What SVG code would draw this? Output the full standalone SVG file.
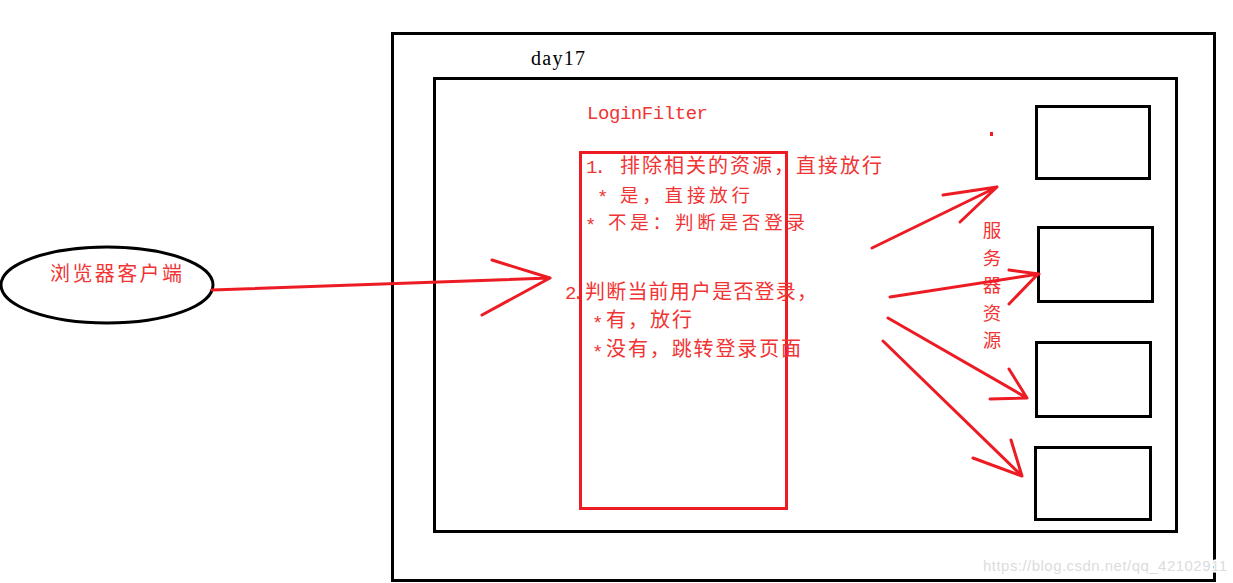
<svg xmlns="http://www.w3.org/2000/svg" width="1233" height="583" viewBox="0 0 1233 583">
<style>
.blk{fill:none;stroke:#000;stroke-width:3}
.red{fill:none;stroke:#ed1c24;stroke-width:3;stroke-linecap:round}
.rbox{fill:none;stroke:#ed1c24;stroke-width:3}
.cn{font-family:"Noto Sans CJK SC","Noto Sans",sans-serif;font-size:20px;fill:#f03434}
.sm{font-size:18.5px}
.mono{font-family:"Liberation Mono",monospace;fill:#f03434;font-size:19px}
.wm{font-family:"Liberation Sans",Arial,sans-serif;font-size:15px;fill:#dcdcdc;stroke:#fff;stroke-width:3;paint-order:stroke}
</style>
<rect width="1233" height="583" fill="#fff"/>
<g id="day17">
<rect class="blk" x="392.5" y="33.5" width="822" height="547"/>
<text x="531" y="65" font-family="Liberation Serif,serif" font-size="20" fill="#000" textLength="54">day17</text>
</g>
<g id="inner">
<rect class="blk" x="434.5" y="78.5" width="742" height="453"/>
</g>
<g id="browser">
<ellipse cx="107" cy="285" rx="106" ry="38" fill="#fff" stroke="#000" stroke-width="3"/>
<text class="cn" x="50" y="281" textLength="132">浏览器客户端</text>
</g>
<g id="loginfilter">
<text class="mono" x="587" y="119" font-size="18" textLength="121">LoginFilter</text>
<rect class="rbox" x="580.5" y="152.5" width="206" height="356"/>
<text class="mono" x="586" y="173" textLength="20">1.</text>
<text class="cn" x="620" y="173" textLength="262">排除相关的资源，直接放行</text>
<text class="mono" x="597" y="203" font-size="21">*</text>
<text class="cn sm" x="620" y="202" textLength="130">是，直接放行</text>
<text class="mono" x="585" y="231" font-size="21">*</text>
<text class="cn sm" x="608" y="229" textLength="197">不是：判断是否登录</text>
<text class="mono" x="565" y="299" textLength="19">2.</text>
<text class="cn" x="585" y="299" textLength="232">判断当前用户是否登录，</text>
<text class="mono" x="592" y="329" font-size="21">*</text>
<text class="cn" x="606" y="327" textLength="86">有，放行</text>
<text class="mono" x="592" y="358" font-size="21">*</text>
<text class="cn" x="606" y="356" textLength="195">没有，跳转登录页面</text>
</g>
<g id="res1"><rect class="blk" x="1036.5" y="106.5" width="113" height="72"/></g>
<g id="res2"><rect class="blk" x="1038.5" y="227.5" width="114" height="74"/></g>
<g id="res3"><rect class="blk" x="1036.5" y="342.5" width="114" height="74"/></g>
<g id="res4"><rect class="blk" x="1035.5" y="447.5" width="115" height="72"/></g>
<g id="label-server">
<text class="cn sm" x="992" y="237" text-anchor="middle">服</text>
<text class="cn sm" x="992" y="265" text-anchor="middle">务</text>
<text class="cn sm" x="992" y="292" text-anchor="middle">器</text>
<text class="cn sm" x="992" y="320" text-anchor="middle">资</text>
<text class="cn sm" x="992" y="347" text-anchor="middle">源</text>
<rect x="990" y="132" width="3" height="4" fill="#ed1c24"/>
</g>
<g id="connectors">
<path class="red" d="M212 290 L550 278 M492 260 L550 278 M482 315 L550 278"/>
<path class="red" d="M872 248 L997 187 M943 195 L997 187 M960 222 L997 187"/>
<path class="red" d="M890 297 L1039 274 M1009 270 L1039 274 M1009 304 L1038 274"/>
<path class="red" d="M888 318 L1027 398 M1009 369 L1027 398 M990 399 L1027 398"/>
<path class="red" d="M883 341 L1022 476 M1011 440 L1022 476 M973 458 L1022 476"/>
</g>
<text class="wm" x="983" y="571" textLength="244">https://blog.csdn.net/qq_42102911</text>
</svg>
